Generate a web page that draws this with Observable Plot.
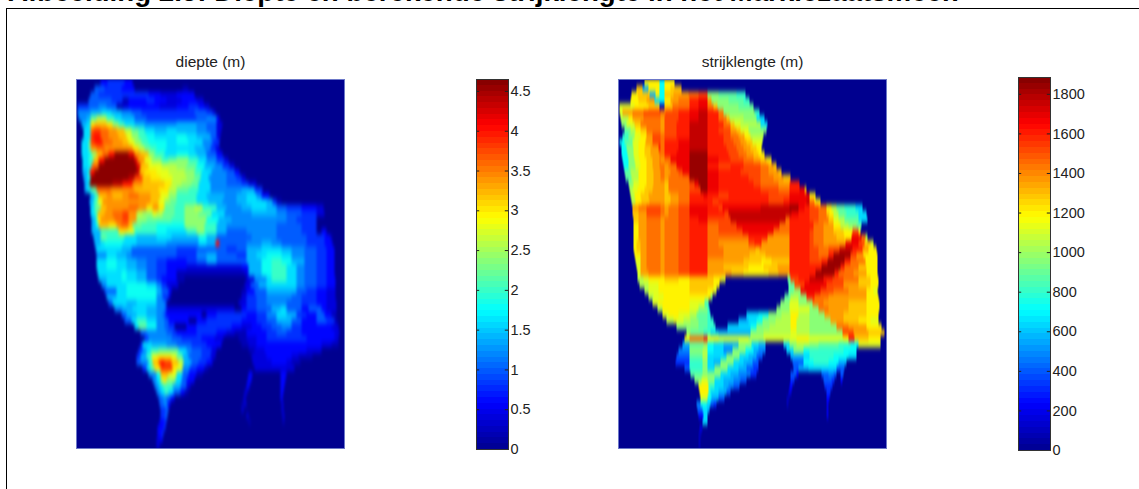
<!DOCTYPE html>
<html>
<head>
<meta charset="utf-8">
<script src="https://cdn.jsdelivr.net/npm/d3@7"></script>
<script src="https://cdn.jsdelivr.net/npm/@observablehq/plot@0.6"></script>
<style>
html,body{margin:0;padding:0;background:#fff;width:1139px;height:489px;overflow:hidden;font-family:"Liberation Sans",Arial,sans-serif}
#heading{position:absolute;left:8px;top:-24px;font:bold 27.7px "Liberation Sans",Arial,sans-serif;white-space:nowrap;color:#000}
#box{position:absolute;left:6px;top:8px;width:1200px;height:600px;border-left:1px solid #000;border-top:1px solid #000}
.p{position:absolute}
#map1 image{filter:url(#soft1)}
#map2 image{filter:url(#soft2)}
</style>
</head>
<body>
<svg width="0" height="0" style="position:absolute">
  <filter id="soft1" x="-5%" y="-5%" width="110%" height="110%" color-interpolation-filters="sRGB"><feGaussianBlur stdDeviation="1.2 2.2"/></filter>
  <filter id="soft2" x="-5%" y="-5%" width="110%" height="110%" color-interpolation-filters="sRGB"><feGaussianBlur stdDeviation="0.6 1.9"/></filter>
</svg>
<div id="heading">Afbeelding 2.5: Diepte en berekende strijklengte in het Markiezaatsmeer.</div>
<div id="box"></div>
<div class="p" id="map1" style="left:76px;top:49px"></div>
<div class="p" id="bar1" style="left:476px;top:69px"></div>
<div class="p" id="map2" style="left:618px;top:49px"></div>
<div class="p" id="bar2" style="left:1018px;top:67px"></div>
<script>
const depthStep = 0.2;   // metres per level
const fetchStep = 80;    // metres per level
const depthTicks = [0, 0.5, 1, 1.5, 2, 2.5, 3, 3.5, 4, 4.5];
const fetchTicks = [0, 200, 400, 600, 800, 1000, 1200, 1400, 1600, 1800];
const depthMax = 4.65, fetchMax = 1885;
const gridCols = 268;

// Each row lists "level + first column" runs; navy (level 0) until the first run.
const depthRuns = [
"324 431 348 056",
"518 428 345 058 1106 0112",
"514 422 455 372 284 3100 0118",
"512 522 435 146 352 470 378 290 3105 2120 0127",
"41 512 622 530 140 247 352 368 283 3100 4112 3122 2128 0133",
"61 714 825 735 645 555 465 5118 4130 2136 0139",
"62 710 b14 d20 a30 838 745 558 470 5120 6130 3140 0143",
"75 810 f14 g18 f30 c36 a42 848 758 668 7100 6120 5130 2140 0146",
"87 913 i14 j17 i24 h32 g40 d48 b55 a62 868 778 890 7100 6120 5130 2140 0145",
"87 913 j14 k17 i24 h32 g42 e50 c55 a62 970 878 9100 8110 7120 5134 2140 0144",
"85 b12 j14 k18 i26 h36 g46 e52 c58 a65 972 890 9100 8112 6126 4136 0143",
"85 b12 h14 i20 h28 f56 d62 b68 a74 980 890 7118 6128 4134 2139 0143",
"85 912 c15 g20 i26 k32 n38 l52 h58 g64 c72 a78 888 9100 8112 7120 5130 3140 0146",
"86 a12 g17 k22 n28 l58 h61 e68 c75 a85 b92 c100 a112 8122 6130 4140 2148 0152",
"86 912 i15 n22 l60 g64 e72 d85 c100 b110 9120 7128 6138 4146 2153 0158",
"76 911 k13 n18 m60 g63 f68 e80 d92 c108 a118 8125 6135 5150 3158 0163",
"77 911 n14 m52 j58 g66 f74 e84 d96 c110 b118 8124 6132 5150 4160 2165 0169",
"78 912 n13 m36 k46 h56 g66 f88 d95 c105 b115 8122 6134 5150 4165 2172 0180",
"78 911 b15 i20 h34 g58 f82 d92 b100 a112 8122 6134 7165 4178 0186",
"714 a18 g22 h30 g36 h46 i52 h62 g74 e84 c92 a100 8120 7130 6148 7160 8170 6180 3185 0193",
"713 a17 e21 h26 g74 e82 c88 b94 a100 8120 7132 6146 7160 8170 7190 4196 1200 0205",
"814 b18 g24 h30 i52 h62 f70 h76 f82 b88 a98 c108 d118 a126 7140 6150 7165 8175 7190 5200 4210 3225 2240 0247",
"814 a18 g21 h28 i36 j46 h52 d60 c66 e76 d80 b86 a98 c108 b122 8135 6148 7175 6200 5210 4225 2240 0248",
"715 a19 f21 h24 i38 j46 h52 c60 b70 a95 c108 9130 7142 6155 5210 4220 0240",
"715 919 g22 f32 h40 i44 g52 b56 a65 980 c108 a128 7140 6150 5200 4225 0240",
"715 a24 f42 e50 a58 980 890 a110 c120 a128 7140 5150 6170 5200 4225 0240 3245 0250",
"717 b24 a30 848 760 880 795 9122 7130 5140 6175 5200 4230 3248 1254 0256",
"718 824 928 846 760 690 8122 7130 k139 5143 6170 7185 6195 5205 4230 3248 0256",
"619 820 745 555 4100 5120 4150 5160 7170 8185 7205 6215 5228 4240 3250 0258",
"620 830 740 650 555 4100 6120 7130 5140 4160 7170 8180 9190 8205 6215 5228 4240 3250 0258",
"820 930 840 750 660 570 480 390 4110 5120 7130 5140 7170 9185 a195 9205 7215 5228 4240 3250 0258",
"820 930 840 750 660 570 480 390 2110 3165 7172 9185 a195 8210 6220 5228 4240 3250 0258",
"821 835 945 850 760 570 480 390 1100 2168 7172 9185 a195 8210 6220 5228 4240 3250 0258",
"722 830 945 850 760 570 480 385 1100 0108 2170 6178 8190 a195 8210 6220 5228 4240 3250 0259",
"625 830 950 870 680 485 290 0102 2168 5174 7182 8190 6220 5228 4240 3250 0259",
"528 840 950 970 780 585 392 095 1165 3170 5178 7190 5220 4230 3240 2250 0259",
"730 840 950 970 680 486 292 094 2165 4170 5180 6190 5215 4225 3240 2250 0259",
"532 836 750 860 680 588 090 2162 4170 5180 6190 5210 4225 3240 2250 0260",
"638 746 856 770 680 588 290 0158 3165 4170 5180 7195 8204 5210 3225 5232 3245 2250 0260",
"545 750 860 770 680 586 389 0125 3130 4140 3170 4180 6190 8200 7210 4220 3230 5240 3248 1255 0260",
"548 855 a60 870 680 588 392 0112 3120 4130 3165 4180 5190 7200 5215 3225 5240 4250 1258 0261",
"858 b62 970 680 588 492 098 3110 4120 3155 2165 3175 4185 5195 6205 4215 3225 2255 0262",
"564 670 590 496 3100 4120 3140 2150 1158 3170 4190 5200 4210 3225 2258 0263",
"468 672 595 4105 3125 2138 0147 1162 2170 3180 4190 3230 2258 0262",
"464 866 775 690 5100 4115 3130 0145 1165 2172 3180 2245 1255 0262",
"462 666 870 a74 b82 8102 6110 5115 4125 2135 0140 1172 2178 3188 2230 0245",
"460 764 a70 e75 f80 e95 b100 7106 5112 4125 2134 0139 2175 3190 2215 1222 0236",
"560 664 a72 g76 j82 k84 j88 g95 d102 7107 5115 4122 3130 0136 2176 3195 2210 1215 0224",
"466 870 b74 f78 j84 f96 e100 6106 4113 3120 1128 0132 2178 0218",
"672 980 g84 e92 8100 5106 3112 1120 0126 3172 0176 3204 0210",
"676 880 d84 f87 c90 899 5105 3110 0118 3171 0175 3204 0209",
"678 882 a86 796 5104 2110 0114 3170 0173 3204 0208",
"680 884 a88 892 597 3104 1108 0112 2168 0171 3204 0207",
"582 686 590 394 098 2167 0169 3204 0206",
"583 687 391 094 1165 2168 0170 2205 0207",
"484 589 092 2165 0167 2205 0207",
"484 588 091 2170 0172 2206 0208",
"383 488 090 1172 0174 1206 0208",
"381 487 089",
"381 485 087",
"280 384 086",
"280 083"
];

const fetchRuns = [
"f26 941 f46 056",
"g18 724 f30 941 f46 g52 063",
"f13 g19 731 f37 941 g46 h55 i70 j80 c89 b100 a118 0127",
"f12 g20 h28 836 941 f46 h52 i60 k71 l80 h89 c93 b110 a125 0131",
"e1 f16 g30 141 g46 i54 k71 l80 i89 g95 c99 b120 0135",
"e1 h4 i14 j25 i42 j47 k60 l71 m80 k89 i100 c105 a136 0141",
"d2 f10 h14 i25 h42 j46 k60 l71 m80 k89 i100 g108 d111 c125 8138 0146",
"c3 e8 g16 i22 h42 j46 k58 m71 k89 i105 g112 e116 d122 8142 0149",
"b6 d12 f17 g22 i28 h42 j46 k58 m71 k89 j100 h112 g118 e122 c130 0148",
"a4 c10 e16 f22 h28 j34 i42 j46 k58 m71 k89 j105 i112 h120 f126 d132 0145",
"91 b6 e14 f20 h27 j34 i42 k46 l60 m71 k89 j105 i115 h122 g128 e134 0144",
"93 c8 e15 f20 g26 h32 k40 i42 k46 l60 m71 k89 j108 i118 h125 g132 f138 0143",
"93 c9 e15 f20 g26 h32 i41 k46 l58 n71 k89 j110 i120 h128 g135 f140 0146",
"94 c10 e16 f21 g28 h34 i41 h42 i46 l52 n71 l89 k100 j112 i125 h135 g142 f148 0153",
"95 c10 e17 f22 g28 h34 i41 h46 i50 l58 n71 k89 j100 k112 j125 i142 h150 g155 0158",
"b6 d12 f20 g28 h35 i42 h46 i52 j60 l64 n71 l89 k100 j122 i142 h150 g160 0163",
"b7 d13 f20 g28 h35 i42 h46 i50 j70 n71 l89 k100 j130 i142 h155 g165 0172",
"c10 e15 f21 g28 h35 g46 i50 j71 l76 n80 l89 k100 j135 i142 h160 k171 0181",
"d11 e14 f19 g26 h34 g46 i50 j71 n82 l89 k100 j142 i160 k171 l181 g186 0188",
"d12 f16 g22 h30 g46 h52 i60 k71 l85 k89 j100 k110 j150 l171 f191 0197",
"d13 f17 g23 h31 g46 h52 i60 k71 j94 k100 j150 k165 l171 m188 i191 f196 0202",
"h14 i20 j28 i42 h46 i50 j60 l71 k89 j100 l104 m142 n171 l180 k186 j191 i200 f208 d213 b218 a226 8237 0244",
"g14 h20 j28 i42 h46 i50 j60 l71 k89 j106 m110 l173 k180 j191 i200 g208 f211 d215 b220 a228 8240 0248",
"g15 h20 i28 h42 i46 j60 k71 l80 j89 m112 i167 k171 j191 i200 g210 e215 d220 b226 8240 0249",
"f15 h20 i28 h42 i46 j60 k71 i89 j100 l118 i161 k171 i195 h205 f215 d222 c230 b238 0243",
"f15 h20 i28 h42 i46 j60 k71 i89 j100 l124 i155 k171 j191 i195 h205 g215 f225 j234 f240 0242",
"f15 h20 i28 h42 i46 j60 k71 i89 k130 h149 k171 j191 i195 h205 g218 f226 l233 i243 d247 0249",
"f15 g18 h22 i28 h42 i46 j60 k71 i89 h100 j130 k136 h143 k171 j191 i195 h205 l227 j240 g246 e252 0255",
"f15 g18 h22 i28 h42 i46 j60 k71 i89 h105 g137 h141 k171 j191 i200 j210 m221 k234 h244 f250 0258",
"f16 h22 i28 h42 i46 j60 k71 i89 h105 g131 h147 k171 j191 i200 k210 n215 j232 h238 f245 0259",
"e17 h22 i28 h42 i46 j60 k71 h89 g125 f143 g153 k171 j191 k203 n209 k226 i232 f247 0259",
"e18 h22 i28 h42 i46 j60 k71 h89 g105 f130 g145 h159 k171 n203 k222 i226 g240 f248 0259",
"e19 h22 i30 h42 i46 j60 k71 h89 g113 f125 g150 h160 k171 n197 k216 i220 h235 f248 0259",
"d19 e25 f30 g46 f60 g71 f95 e103 0107 b169 j172 k180 m191 k205 j214 i225 g240 f252 0260",
"d21 e30 f40 g71 f95 0101 b170 j176 l186 j208 h225 g240 f252 0260",
"d26 e30 f40 g71 f89 e95 098 b170 c175 l182 j202 i215 h230 f248 e255 0259",
"d30 e35 f45 c92 094 b166 d172 c180 k188 i196 h210 f248 0260",
"e34 f40 e71 a86 090 c162 e171 c180 i194 h205 g230 f248 0261",
"d39 f44 e71 c80 a89 091 c158 e171 c191 i200 h210 g230 f248 0261",
"e44 f50 e60 d71 b78 a89 092 8128 9140 c150 d163 f172 d180 c191 h206 g225 f248 0260",
"d48 e55 d65 c72 b80 a89 095 7120 8130 9138 c144 d157 f172 d178 c191 h212 g225 f240 e252 0260",
"c58 b80 a89 097 8109 9132 c138 d151 f172 d178 c191 i218 h230 f248 0263",
"c68 b72 a85 892 7100 c132 d145 e172 d178 c191 j224 h235 g250 0266",
"f66 i71 k85 f89 e100 d130 e145 f178 e190 f225 k230 g236 f250 0262",
"764 b71 c85 989 895 7105 c120 8133 7140 0147 8165 c171 d178 c191 b200 a220 9232 e240 0262",
"660 c71 d84 989 895 6105 c114 9127 7135 6140 0147 8168 c175 9185 a191 9225 0238",
"558 b71 d84 889 c108 8121 7130 5138 0144 7172 8185 a191 9215 8230 0238",
"457 a71 c84 889 795 c102 8115 7125 5134 0140 5174 9185 a195 9210 7220 0228",
"566 a71 c84 889 c96 8109 7120 5128 4135 0140 5175 7180 8190 5218 0226",
"b72 c84 8102 7112 6120 4132 0138 5172 3178 0180 5203 6210 5215 0218 5222 0225",
"c76 e83 c89 896 7105 6115 5122 0128 4172 0176 5205 4213 0216 3222 0224",
"f80 a90 896 7105 6110 5115 0121 3171 0174 4206 0214",
"f81 a90 892 7100 5108 0112 2170 0173 4208 0212",
"e82 989 793 5100 0106 1168 0171 3208 0211",
"678 982 888 592 495 098 1168 0170 2208 0210",
"579 884 789 091 2208 0210",
"380 885 089 2208 0210",
"884 089",
"281 084",
"180 083",
"180 082",
"180 082"
];

const level = c => parseInt(c, 36);

const decodeRuns = (rows, cols, step) =>
  rows.flatMap(r => {
    const row = new Array(cols).fill(0);
    for (const token of r.split(" ")) {
      const lv = level(token[0]) * step, start = +token.slice(1);
      for (let i = start; i < cols; ++i) row[i] = lv;
    }
    return row;
  });

const jetStops = [0, 0.125, 0.375, 0.625, 0.875, 1];
const jetColors = ["#00008f", "#0000ff", "#00ffff", "#ffff00", "#ff0000", "#800000"];
const colorOf = max => ({type: "linear", domain: jetStops.map(t => t * max), range: jetColors, clamp: true});

function mapPanel(values, cols, rows, max, label) {
  return Plot.plot({
    width: 268, height: 399,
    marginTop: 30, marginBottom: 0, marginLeft: 0, marginRight: 0,
    style: {overflow: "visible", background: "transparent"},
    x: {domain: [0, cols], axis: null},
    y: {domain: [0, rows], range: [30, 399], axis: null},
    color: colorOf(max),
    marks: [
      Plot.frame({fill: jetColors[0]}),
      Plot.raster(values, {width: cols, height: rows, x1: 0, x2: cols, y1: 0, y2: rows, fill: d => d, clip: "frame", imageRendering: "auto"}),
      Plot.frame({stroke: "#6c78c8", strokeWidth: 1}),
      Plot.text([label], {text: d => d, frameAnchor: "top", dy: -24, fontSize: 15.5, fontFamily: "Liberation Sans", fill: "#222"})
    ]
  });
}

function colorBar(max, ticks, barHeight) {
  const n = 64;
  const bands = d3.range(n).map(i => ({lo: i / n * max, hi: (i + 1) / n * max, v: (i + 0.5) / n * max}));
  return Plot.plot({
    width: 100, height: barHeight + 20,
    marginTop: 10, marginBottom: 10, marginLeft: 0, marginRight: 68,
    style: {overflow: "visible", background: "transparent"},
    x: {domain: [0, 1], axis: null},
    y: {domain: [0, max], axis: null},
    color: colorOf(max),
    marks: [
      Plot.rect(bands, {x1: () => 0, x2: () => 1, y1: "lo", y2: "hi", fill: "v", shapeRendering: "crispEdges"}),
      Plot.ruleY(ticks, {x1: () => 0, x2: () => 0.1, stroke: "#222"}),
      Plot.ruleY(ticks, {x1: () => 0.9, x2: () => 1, stroke: "#222"}),
      Plot.frame({stroke: "#333", strokeWidth: 1}),
      Plot.axisY(ticks, {anchor: "right", tickSize: 0, tickPadding: 2, tickFormat: d => String(d), fontSize: 14.5, fontFamily: "Liberation Sans", fill: "#222"})
    ]
  });
}

document.getElementById("map1").append(mapPanel(decodeRuns(depthRuns, gridCols, depthStep), gridCols, depthRuns.length, depthMax, "diepte (m)"));
document.getElementById("map2").append(mapPanel(decodeRuns(fetchRuns, gridCols, fetchStep), gridCols, fetchRuns.length, fetchMax, "strijklengte (m)"));
document.getElementById("bar1").append(colorBar(depthMax, depthTicks, 370));
document.getElementById("bar2").append(colorBar(fetchMax, fetchTicks, 373));
</script>
</body>
</html>
